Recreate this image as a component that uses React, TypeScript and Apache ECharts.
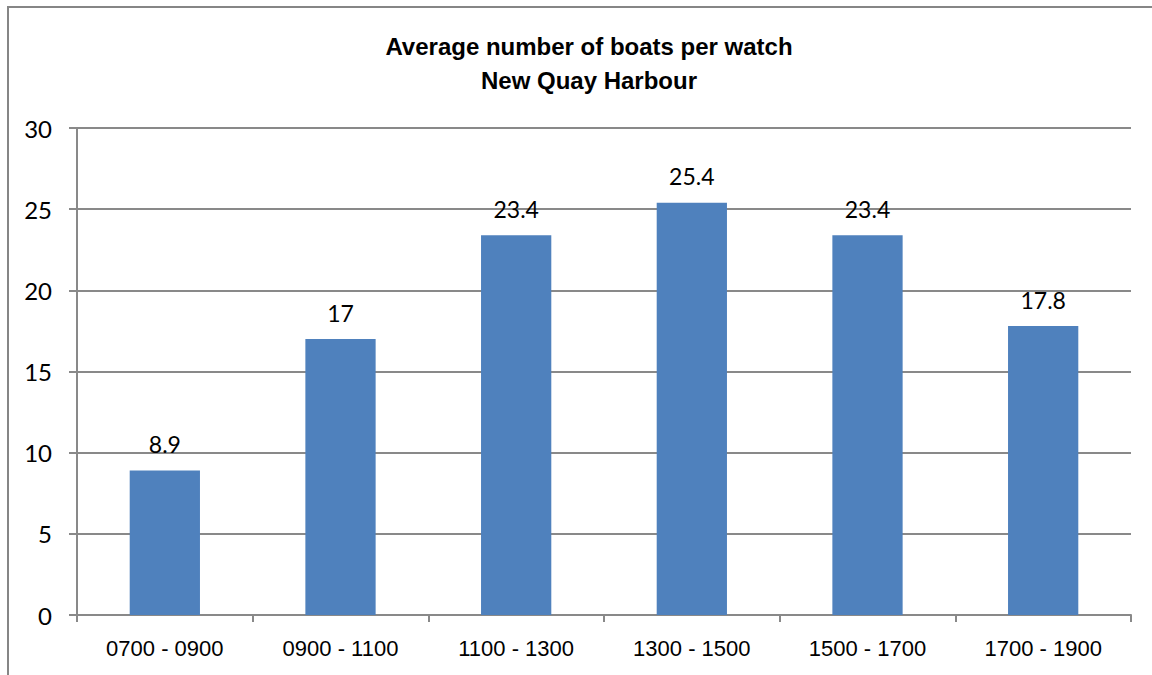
import React, { useEffect, useRef } from "react";
import * as echarts from "echarts";

const categories = ["0700 - 0900", "0900 - 1100", "1100 - 1300", "1300 - 1500", "1500 - 1700", "1700 - 1900"];
const boats = [8.9, 17, 23.4, 25.4, 23.4, 17.8];
const titleLines = ["Average number of boats per watch", "New Quay Harbour"];

export default function App() {
  const ref = useRef<HTMLDivElement>(null);
  useEffect(() => {
    if (!ref.current) return;
    const chart = echarts.init(ref.current, null, { renderer: "svg" });
    const gray = "#898989";
    chart.setOption({
      animation: false,
      backgroundColor: "#ffffff",
      title: {
        text: titleLines.join("\n"),
        left: 584,
        top: 24,
        textAlign: "center",
        textStyle: {
          fontFamily: "Liberation Sans, Arial, sans-serif",
          fontWeight: "bold",
          fontSize: 24,
          lineHeight: 34,
          color: "#000",
        },
      },
      graphic: [
        {
          type: "rect",
          shape: { x: 8, y: 7, width: 1200, height: 720 },
          style: { fill: "none", stroke: "#868686", lineWidth: 2 },
          silent: true,
        },
      ],
      grid: { left: 77, right: 21, top: 128, bottom: 60 },
      xAxis: {
        type: "category",
        data: categories,
        axisLine: { show: true, lineStyle: { color: gray, width: 2 } },
        axisTick: { show: true, length: 7, lineStyle: { color: gray, width: 2 } },
        axisLabel: {
          margin: 22,
          fontSize: 22,
          fontFamily: "Liberation Sans, Arial, sans-serif",
          color: "#000",
        },
      },
      yAxis: {
        type: "value",
        min: 0,
        max: 30,
        interval: 5,
        axisLine: { show: true, lineStyle: { color: gray, width: 2 } },
        axisTick: { show: true, length: 8, lineStyle: { color: gray, width: 2 } },
        splitLine: { show: true, lineStyle: { color: gray, width: 2 } },
        axisLabel: {
          margin: 25,
          fontSize: 24,
          fontFamily: "Lato, sans-serif",
          color: "#000",
        },
      },
      series: [
        {
          type: "bar",
          data: boats,
          barCategoryGap: "60%",
          itemStyle: { color: "#4f81bd" },
          label: {
            show: true,
            position: "top",
            distance: 15,
            fontSize: 23,
            fontFamily: "Lato, sans-serif",
            color: "#000",
          },
        },
      ],
    });
    return () => chart.dispose();
  }, []);
  return <div ref={ref} style={{ position: "fixed", left: 0, top: 0, width: 1152, height: 675 }} />;
}
